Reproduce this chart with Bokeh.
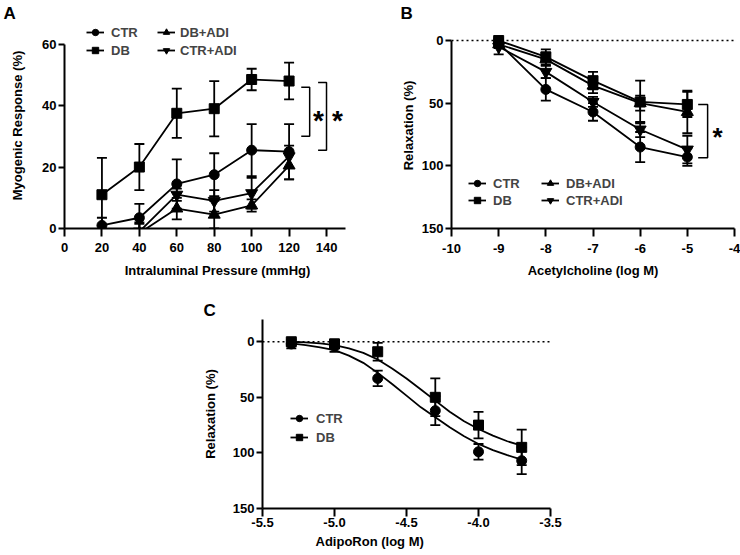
import numpy as np
from bokeh.plotting import figure
from bokeh.models import Range1d, Legend, LegendItem, Title, Spacer, FixedTicker, PrintfTickFormatter
from bokeh.layouts import row, column
from bokeh.core.properties import value
from bokeh.embed import file_html
from bokeh.resources import INLINE

FONT = "Liberation Sans"

# ---------------- Panel A data ----------------
pressure = [20, 40, 60, 80, 100, 120]
a_ctr = [1, 3.5, 14.5, 17.5, 25.5, 25]
a_ctr_err = [2.5, 4.5, 8, 7, 8.5, 9]
a_db = [11, 20, 37.5, 39, 48.5, 48]
a_db_err = [12, 7.5, 8, 9, 3.5, 6]
a_dbadi = [-4, -1.5, 6.5, 4.5, 7.5, 20.5]
a_dbadi_err = [3, 3, 3.5, 4.5, 2, 4.5]
a_ctradi = [-4, -1, 11, 9, 11.5, 23.5]
a_ctradi_err = [3, 3, 2, 3.5, 5, 3.5]
a_xticks = [0, 20, 40, 60, 80, 100, 120, 140]
a_yticks = [0, 20, 40, 60]
a_br_x = [131, 140]
a_br_top = [46, 47.5]
a_br_bot = [30, 25.5]
a_star_x = [135.7, 145.9]
a_star_y = [35, 35]

# ---------------- Panel B data ----------------
ach = [-9, -8, -7, -6, -5]
b_ctr = [2, 39, 57, 85, 93]
b_ctr_err = [3, 9, 7, 12, 7]
b_db = [0, 13, 32, 49, 51]
b_db_err = [2, 6, 7, 17, 10]
b_dbadi = [3, 15, 36, 50, 57]
b_dbadi_err = [3, 5, 6, 6, 17]
b_ctradi = [5, 25, 49, 71, 87]
b_ctradi_err = [6, 5, 4, 6, 11]
b_xticks = [-10, -9, -8, -7, -6, -5, -4]
b_yticks = [0, 50, 100, 150]
b_br_x = [-4.57]
b_br_top = [51]
b_br_bot = [93.5]
b_star_x = [-4.36]
b_star_y = [76.6]

# ---------------- Panel C data ----------------
adipo = [-5.3, -5.0, -4.7, -4.3, -4.0, -3.7]
c_ctr = [2, 4, 33, 62, 99, 107]
c_ctr_err = [4, 5, 7, 13, 7, 12]
c_db = [0, 2, 9, 50, 75, 95]
c_db_err = [2, 4, 8, 17, 12, 16]
c_curve_x = [-5.3, -5.2, -5.1, -5.0, -4.9, -4.8, -4.7, -4.6, -4.5, -4.4, -4.3,
             -4.2, -4.1, -4.0, -3.9, -3.8, -3.7]
c_curve_ctr = [1.5, 3, 5, 7.5, 12.5, 19, 28, 38, 48.5, 59, 68, 77, 85, 92, 97.5, 102, 106]
c_curve_db = [0, 0.5, 1.5, 3, 6, 10, 16, 24, 33, 43, 53, 63, 71.5, 78.5, 84.5, 89.5, 93.5]
c_xticks = [-5.5, -5.0, -4.5, -4.0, -3.5]
c_yticks = [0, 50, 100, 150]

LW = 1.8


def make_fig(w, h, xr, yr, ml, mr, mt, mb):
    p = figure(width=w, height=h, x_range=xr, y_range=yr, output_backend="svg",
               toolbar_location=None, min_border_left=ml, min_border_right=mr,
               min_border_top=mt, min_border_bottom=mb)
    p.outline_line_color = None
    p.xgrid.visible = False
    p.ygrid.visible = False
    p.background_fill_color = "white"
    p.border_fill_color = "white"
    return p


def style_axes(p, xticks, yticks, xfmt, xb, yb, xlabel, ylabel, xls, yls, xstand=6):
    for ax in (p.xaxis[0], p.yaxis[0]):
        ax.axis_line_width = 2
        ax.axis_line_color = "black"
        ax.major_tick_line_width = 2
        ax.major_tick_line_color = "black"
        ax.major_tick_in = 0
        ax.minor_tick_in = 0
        ax.minor_tick_out = 0
        ax.major_label_text_font = FONT
        ax.major_label_text_font_size = "13px"
        ax.major_label_text_font_style = "bold"
        ax.major_label_text_color = "black"
        ax.axis_label_text_font = FONT
        ax.axis_label_text_font_size = "13px"
        ax.axis_label_text_font_style = "bold"
        ax.axis_label_text_color = "black"
    xa, ya = p.xaxis[0], p.yaxis[0]
    xa.ticker = FixedTicker(ticks=xticks)
    ya.ticker = FixedTicker(ticks=yticks)
    xa.formatter = PrintfTickFormatter(format=xfmt)
    ya.formatter = PrintfTickFormatter(format="%d")
    xa.bounds = xb
    ya.bounds = yb
    xa.major_tick_out = 8
    ya.major_tick_out = 6
    xa.major_label_standoff = xstand
    ya.major_label_standoff = 2
    if xlabel:
        xa.axis_label = xlabel
        xa.axis_label_standoff = xls
    ya.axis_label = ylabel
    ya.axis_label_standoff = yls


def series(p, x, y, err, marker, size, with_line=True):
    x = np.asarray(x, float)
    y = np.asarray(y, float)
    e = np.asarray(err, float)
    lo, hi = y - e, y + e
    p.segment(x, lo, x, hi, line_color="black", line_width=LW)
    p.scatter(x, hi, marker="dash", size=10, line_width=LW, line_color="black")
    p.scatter(x, lo, marker="dash", size=10, line_width=LW, line_color="black")
    rs = []
    if with_line:
        rs.append(p.line(x, y, line_width=LW, line_color="black"))
    rs.append(p.scatter(x, y, marker=marker, size=size, fill_color="black", line_color="black"))
    return rs


def brackets(p, xs, tops, bots, arm):
    xsl, ysl = [], []
    for x, t, b in zip(xs, tops, bots):
        xsl.append([x - arm, x, x, x - arm])
        ysl.append([t, t, b, b])
    p.multi_line(xsl, ysl, line_color="black", line_width=1.5)


def stars(p, xs, ys, size):
    p.text(xs, ys, text=["*"] * len(xs), text_font=value(FONT), text_font_size=size,
           text_font_style="bold", text_align="center", text_baseline="middle",
           text_color="black")


def legend(p, items, vx, vy, spacing, standoff, gw):
    lg = Legend(items=items, location=(vx, vy), orientation="vertical", padding=0,
                margin=0, spacing=spacing, glyph_width=gw, glyph_height=16,
                label_height=16, label_standoff=standoff, label_text_font=FONT,
                label_text_font_size="13px", label_text_font_style="bold",
                background_fill_alpha=0, border_line_color=None)
    p.add_layout(lg)


def letter(p, t, offset):
    p.add_layout(Title(text=t, align="left", offset=offset, standoff=0,
                       text_font=FONT, text_font_size="17px", text_font_style="bold",
                       text_color="black"), "above")


# ---------------- Panel A ----------------
pA = make_fig(370, 296, Range1d(0, 163.5), Range1d(0, 67.05), 64, 0, 22, 65)
style_axes(pA, a_xticks, a_yticks, "%d", (0, 150), (0, 60),
           "Intraluminal Pressure (mmHg)", "Myogenic Response (%)", 8, 14)
rA_ctr = series(pA, pressure, a_ctr, a_ctr_err, "circle", 10)
rA_db = series(pA, pressure, a_db, a_db_err, "square", 10)
rA_dbadi = series(pA, pressure, a_dbadi, a_dbadi_err, "triangle", 12)
rA_ctradi = series(pA, pressure, a_ctradi, a_ctradi_err, "inverted_triangle", 12)
brackets(pA, a_br_x, a_br_top, a_br_bot, 4.5)
stars(pA, a_star_x, a_star_y, "28px")
legend(pA, [LegendItem(label="CTR", renderers=rA_ctr), LegendItem(label="DB", renderers=rA_db)],
       22, 170, 2, 7, 18)
legend(pA, [LegendItem(label="DB+ADI", renderers=rA_dbadi),
            LegendItem(label="CTR+ADI", renderers=rA_ctradi)], 93, 170, 2, 5, 18)
letter(pA, "A", -61)

# ---------------- Panel B ----------------
pB = make_fig(370, 296, Range1d(-10, -4), Range1d(150, -14.4), 81, 6, 22, 68)
style_axes(pB, b_xticks, b_yticks, "%d", (-10, -4), (0, 150),
           "Acetylcholine (log M)", "Relaxation (%)", 7, 3, xstand=7)
pB.line([-10, -4], [0, 0], line_color="black", line_width=1.5, line_dash="2 3")
rB_ctr = series(pB, ach, b_ctr, b_ctr_err, "circle", 10)
rB_db = series(pB, ach, b_db, b_db_err, "square", 10)
rB_dbadi = series(pB, ach, b_dbadi, b_dbadi_err, "triangle", 12)
rB_ctradi = series(pB, ach, b_ctradi, b_ctradi_err, "inverted_triangle", 12)
brackets(pB, b_br_x, b_br_top, b_br_bot, 0.2)
stars(pB, b_star_x, b_star_y, "26px")
legend(pB, [LegendItem(label="CTR", renderers=rB_ctr), LegendItem(label="DB", renderers=rB_db)],
       17, 20, 1, 7, 18)
legend(pB, [LegendItem(label="DB+ADI", renderers=rB_dbadi),
            LegendItem(label="CTR+ADI", renderers=rB_ctradi)], 90, 20, 1, 7, 18)
letter(pB, "B", -51)

# ---------------- Panel C ----------------
pC = make_fig(380, 259, Range1d(-5.5, -3.5), Range1d(150, -20), 72, 20, 23, 47)
style_axes(pC, c_xticks, c_yticks, "%.1f", (-5.5, -3.5), (-20, 150),
           None, "Relaxation (%)", 0, 12, xstand=1)
pC.line([-5.5, -3.5], [0, 0], line_color="black", line_width=1.5, line_dash="2 3")
cl_ctr = pC.line(c_curve_x, c_curve_ctr, line_width=LW, line_color="black")
cl_db = pC.line(c_curve_x, c_curve_db, line_width=LW, line_color="black")
rC_ctr = series(pC, adipo, c_ctr, c_ctr_err, "circle", 10, with_line=False)
rC_db = series(pC, adipo, c_db, c_db_err, "square", 10, with_line=False)
legend(pC, [LegendItem(label="CTR", renderers=[cl_ctr] + rC_ctr),
            LegendItem(label="DB", renderers=[cl_db] + rC_db)], 28, 63, 3, 8, 18)
letter(pC, "C", -59)
pC.add_layout(Title(text="AdipoRon (log M)", align="left", offset=53, standoff=4,
                    text_font=FONT, text_font_size="13px", text_font_style="bold",
                    text_color="black"), "below")

layout = column(row(pA, pB), row(Spacer(width=190, height=259), pC))
open("out.html", "w").write(file_html(layout, INLINE))
